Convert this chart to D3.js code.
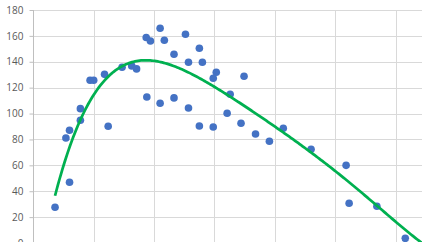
<!DOCTYPE html>
<html>
<head>
<meta charset="utf-8">
<script src="https://cdn.jsdelivr.net/npm/d3@7"></script>
<style>
  body { margin: 0; background: #fff; }
  svg { display: block; overflow: hidden; }
  .tick text { font-family: "Open Sans", sans-serif; font-size: 10px; fill: #595959; }
</style>
</head>
<body>
<div id="chart"></div>
<script>
// scatter values
const xValues = [3.6, 6.0, 5.4, 6.0, 7.8, 7.8, 9.4, 10.0, 11.8, 12.4, 14.7, 16.3, 17.1, 18.8,
  18.7, 19.4, 21.0, 21.7, 21.0, 23.3, 23.3, 25.2, 25.7, 25.7, 27.5, 28.0, 27.5, 29.8,
  30.3, 29.8, 32.6, 32.1, 34.9, 34.4, 36.8, 39.1, 41.4, 46.0, 51.8, 52.3, 56.9, 61.6];
const yValues = [27.6, 46.9, 81.1, 87.1, 94.8, 103.8, 125.7, 125.7, 130.3, 90.2, 135.8, 136.8, 134.5, 112.8,
  158.7, 156.1, 165.9, 156.6, 108.0, 145.8, 112.1, 161.3, 139.6, 104.3, 150.5, 139.6, 90.4, 89.6,
  131.9, 127.3, 114.9, 100.2, 128.8, 92.5, 84.2, 78.6, 88.6, 72.4, 60.0, 30.7, 28.4, 3.6];
// trendline (the fit uses points outside the crop)
const trendX = [3.6, 5.0, 6.4, 9.9, 14.6, 16.0, 19.3, 24.3, 29.8, 32.6, 38.1, 41.4, 46.0, 50.2, 56.9, 64.0];
const trendY = [37, 59, 79.6, 113, 136.2, 140.1, 140.6, 135, 122, 113, 93.5, 86, 71.5, 55, 28, 1.5];
const yTicks = [0, 20, 40, 60, 80, 100, 120, 140, 160, 180];
const xGrid = [10, 20, 30, 40, 50, 60, 70];

const width = 422, height = 242;

const svg = d3.select("#chart").append("svg")
  .attr("width", width)
  .attr("height", height);

// plot area runs past the bottom and right edge of the window
const x = d3.scaleLinear().domain([0, 70]).range([33.3, 456]);
const y = d3.scaleLinear().domain([0, 180]).range([243, 10]);

// gridlines
svg.append("g").selectAll("line.h")
  .data(yTicks)
  .join("line")
  .attr("x1", x(0)).attr("x2", x(70))
  .attr("y1", d => Math.round(y(d)) + 0.5).attr("y2", d => Math.round(y(d)) + 0.5)
  .attr("stroke", "#d9d9d9");

svg.append("g").selectAll("line.v")
  .data(xGrid)
  .join("line")
  .attr("x1", d => Math.round(x(d)) + 0.5).attr("x2", d => Math.round(x(d)) + 0.5)
  .attr("y1", y(180)).attr("y2", y(0))
  .attr("stroke", "#d9d9d9");

// y axis with short outside ticks
const yAxis = svg.append("g")
  .attr("transform", `translate(${Math.round(x(0)) + 0.5},0)`)
  .call(d3.axisLeft(y).tickValues(yTicks).tickSize(4).tickPadding(6));
yAxis.select(".domain").attr("stroke", "#bfbfbf").attr("d", `M0,${y(180)}V${y(0)}`);
yAxis.selectAll(".tick line").attr("stroke", "#bfbfbf");

// points
svg.append("g").selectAll("circle")
  .data(xValues.map((d, i) => [d, yValues[i]]))
  .join("circle")
  .attr("cx", d => x(d[0]))
  .attr("cy", d => y(d[1]))
  .attr("r", 3.8)
  .attr("fill", "#4472c4");

// smooth polynomial through the trendline readings
function polyFit(xs, ys, order) {
  const n = order + 1;
  const A = [];
  for (let r = 0; r < n; r++) {
    A.push([]);
    for (let c = 0; c < n; c++) A[r].push(d3.sum(xs, v => Math.pow(v, r + c)));
    A[r].push(d3.sum(xs, (v, i) => Math.pow(v, r) * ys[i]));
  }
  for (let i = 0; i < n; i++) {
    let p = i;
    for (let k = i + 1; k < n; k++) if (Math.abs(A[k][i]) > Math.abs(A[p][i])) p = k;
    [A[i], A[p]] = [A[p], A[i]];
    for (let k = i + 1; k < n; k++) {
      const f = A[k][i] / A[i][i];
      for (let j = i; j <= n; j++) A[k][j] -= f * A[i][j];
    }
  }
  const coef = new Array(n).fill(0);
  for (let i = n - 1; i >= 0; i--) {
    let s = A[i][n];
    for (let j = i + 1; j < n; j++) s -= A[i][j] * coef[j];
    coef[i] = s / A[i][i];
  }
  return coef;
}

const coef = polyFit(trendX, trendY, 5);
const trend = d3.range(d3.min(trendX), 68, 0.25)
  .map(v => [v, coef.reduce((s, c, i) => s + c * Math.pow(v, i), 0)]);

svg.append("path")
  .datum(trend)
  .attr("fill", "none")
  .attr("stroke", "#00b050")
  .attr("stroke-width", 2.75)
  .attr("d", d3.line().x(d => x(d[0])).y(d => y(d[1])));
</script>
</body>
</html>
